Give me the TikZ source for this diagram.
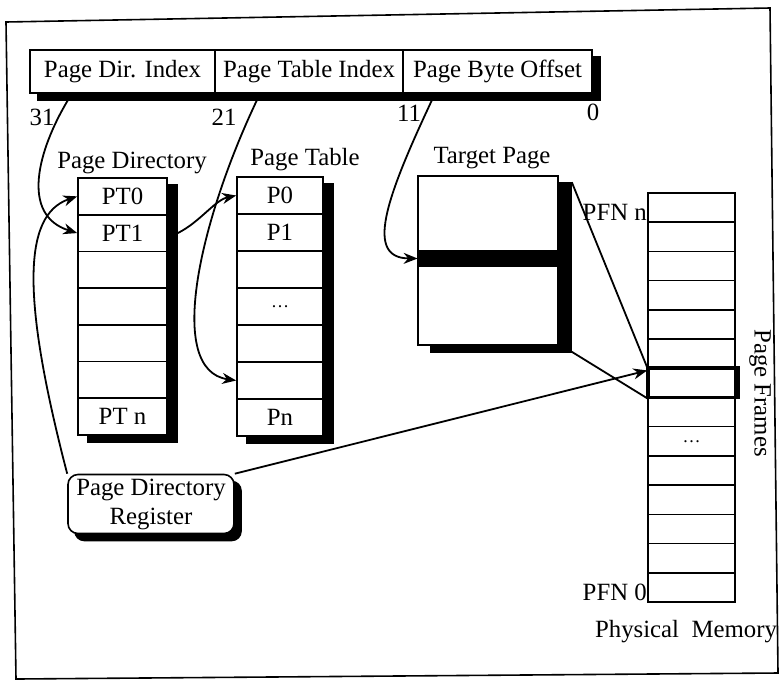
\documentclass[tikz,border=0pt]{standalone}
\usepackage{fontspec}
\setmainfont{Liberation Serif}
\usetikzlibrary{arrows.meta,backgrounds,calc}
\begin{document}
\begin{tikzpicture}[x=0.5pt,y=-0.5pt,
  every node/.style={font=\fontsize{12.4}{14.5}\selectfont, inner sep=1pt},
  box/.style={draw, fill=white, line width=0.8pt, inner sep=0pt},
  field/.style={box, minimum height=21.5pt},
  pdcell/.style={box, minimum width=44.5pt, minimum height=18.36pt},
  ptcell/.style={box, minimum width=43pt, minimum height=18.5pt},
  pmcell/.style={box, minimum width=43.5pt, minimum height=14.61pt},
  shadowfill/.style={fill=black},
  conn/.style={line width=0.9pt, -{Stealth[length=7pt,width=5.5pt]}},
  plainline/.style={line width=0.9pt},
  smalldots/.style={font=\fontsize{9}{10}\selectfont}
]
\useasboundingbox (0,0) rectangle (780,681);
% outer frame
\draw[line width=0.8pt] (6,22) -- (770,8) -- (778,673) -- (16,679) -- cycle;

% address fields
\node[field, minimum width=92.5pt] (f1) at (122.5,71.5) {Page Dir. Index};
\node[field, minimum width=94pt] (f2) at (309,71.5) {Page Table Index};
\node[field, minimum width=94.5pt] (f3) at (497.5,71.5) {Page Byte Offset};
\node (b31) at (42,117) {31};
\node (b21) at (224,117) {21};
\node (b11) at (409,113) {11};
\node (b0) at (593,112) {0};

% page directory
\node (lpd) at (132,163) {Page Directory};
\foreach \i/\t in {0/PT0,1/PT1,2/,3/,4/,5/,6/PT n}
  \node[pdcell] (pd\i) at (122.5,{178+36.71*(\i+0.5)}) {\t};

% page table
\node (lpt) at (305,160) {Page Table};
\foreach \i/\t in {0/P0,1/P1,2/,3/{\fontsize{9}{10}\selectfont\dots},4/,5/,6/Pn}
  \node[ptcell] (pt\i) at (280,{177+37*(\i+0.5)}) {\t};

% target page
\node (ltp) at (492,158) {Target Page};
\node[box, minimum width=70pt, minimum height=84.5pt] (tp) at (488,260.5) {};
\node[fill=black, minimum width=70pt, minimum height=8.5pt, inner sep=0pt] (band) at (488,258.5) {};

% physical memory
\foreach \i/\t in {0/,1/,2/,3/,4/,5/,6/,7/,8/{\fontsize{9}{10}\selectfont\dots},9/,10/,11/,12/,13/}
  \node[pmcell] (pm\i) at (691.5,{193+29.21*(\i+0.5)}) {\t};
\node[draw, line width=1.8pt, minimum width=45pt, minimum height=14.61pt, inner sep=0pt] (hl) at (693,{193+29.21*6.5}) {};
\node[anchor=east, inner sep=0pt] (pfnn) at ([yshift=-2.5pt]pm0.west) {PFN n};
\node[anchor=east, inner sep=0pt] (pfn0) at ([yshift=-2.5pt]pm13.west) {PFN 0};
\node (lpm) at (686,632) {Physical\ \ Memory};
\node[rotate=-90] (lpf) at (760,393) {Page Frames};

% register
\node[box, rounded corners=5pt, minimum width=83pt, minimum height=29.5pt, align=center, inner sep=1pt] (reg) at (151,504) {Page Directory\\Register};

% shadows
\begin{pgfonlayer}{background}
  \fill[shadowfill] ([xshift=4pt,yshift=-3.5pt]f1.north west) rectangle ([xshift=4pt,yshift=-3.5pt]f3.south east);
  \fill[shadowfill] ([xshift=5pt,yshift=-3.5pt]pd0.north west) rectangle ([xshift=5pt,yshift=-3.5pt]pd6.south east);
  \fill[shadowfill] ([xshift=5pt,yshift=-3.5pt]pt0.north west) rectangle ([xshift=5pt,yshift=-3.5pt]pt6.south east);
  \fill[shadowfill] ([xshift=6.5pt,yshift=-3.5pt]tp.north west) rectangle ([xshift=6.5pt,yshift=-3.5pt]tp.south east);
  \fill[shadowfill, rounded corners=5pt] ([xshift=3.5pt,yshift=-3.5pt]reg.north west) rectangle ([xshift=3.5pt,yshift=-3.5pt]reg.south east);
\end{pgfonlayer}

% connector end points
\coordinate (c31) at (68,100);
\coordinate (c21) at (257,100);
\coordinate (c11) at (432,100);
\coordinate (tpsh1) at ([xshift=6.5pt,yshift=-3.5pt]tp.north east);
\coordinate (tpsh2) at ([xshift=6.5pt,yshift=-3pt]tp.south east);

% connectors
\draw[conn] (c31) .. controls (38,150) and (20,215) .. (pd1.west);
\draw[conn] (reg.north west) .. controls (22,300) and (22,215) .. (pd0.west);
\draw[conn] ([xshift=5pt]pd1.east) .. controls (200,222) and (215,200) .. (pt0.west);
\draw[conn] (c21) .. controls (200,220) and (165,370) .. (pt5.west);
\draw[conn] (c11) .. controls (385,200) and (365,258) .. (band.west);
\draw[plainline] (tpsh1) -- (pm6.north west);
\draw[plainline] (tpsh2) -- (pm6.south west);
\draw[conn] (reg.north east) -- ([yshift=-1.5pt]pm6.north west);
\end{tikzpicture}
\end{document}
